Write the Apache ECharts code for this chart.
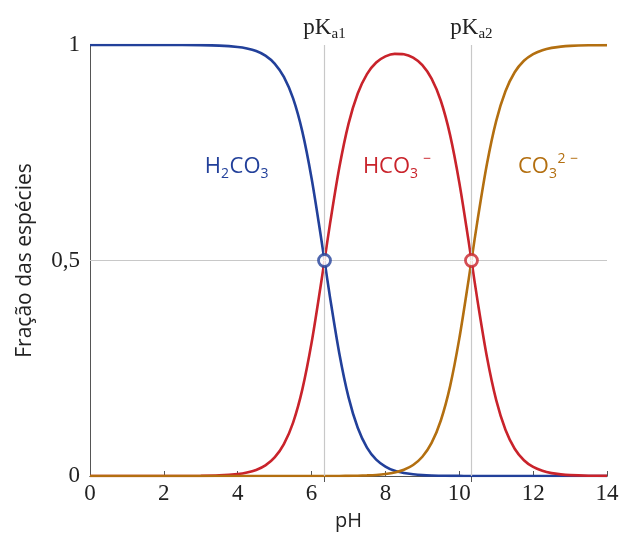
<!DOCTYPE html>
<html>
<head>
<meta charset="utf-8">
<script src="https://cdn.jsdelivr.net/npm/echarts@6/dist/echarts.min.js"></script>
<style>
  html, body { margin: 0; padding: 0; background: #fff; }
  #chart { width: 622px; height: 538px; }
</style>
</head>
<body>
<div id="chart"></div>
<script>
// valores de pH
const phValues = [0, 1, 2, 3, 3.5, 4, 4.25, 4.5, 4.75, 5, 5.25, 5.5, 5.75, 6, 6.25, 6.35,
  6.5, 6.75, 7, 7.25, 7.5, 7.75, 8, 8.25, 8.5, 8.75, 9, 9.25, 9.5, 9.75, 10, 10.25, 10.33,
  10.5, 10.75, 11, 11.25, 11.5, 11.75, 12, 12.25, 12.5, 12.75, 13, 13.5, 14]
// fração de H2CO3
const h2co3 = [1, 1, 1, 0.9996, 0.9986, 0.9955, 0.992, 0.986, 0.9755, 0.957, 0.926, 0.876, 0.799, 0.691, 0.557, 0.5,
  0.4145, 0.285, 0.183, 0.112, 0.066, 0.038, 0.022, 0.012, 0.007, 0.004, 0.002, 0.001, 0.0006, 0.0003, 0.0002, 0.0001, 0.0001,
  0, 0, 0, 0, 0, 0, 0, 0, 0, 0, 0, 0, 0]
// fração de HCO3-
const hco3 = [0, 0, 0, 0.0004, 0.0014, 0.0045, 0.008, 0.014, 0.0245, 0.043, 0.074, 0.124, 0.201, 0.309, 0.443, 0.5,
  0.5855, 0.715, 0.817, 0.8875, 0.9326, 0.9593, 0.9736, 0.9795, 0.9786, 0.9706, 0.9533, 0.922, 0.8706, 0.7915, 0.681, 0.546, 0.5,
  0.4034, 0.2755, 0.176, 0.1073, 0.0633, 0.0366, 0.021, 0.012, 0.0067, 0.0038, 0.0021, 0.0007, 0.0002]
// fração de CO3 2-
const co3 = [0, 0, 0, 0, 0, 0, 0, 0, 0, 0, 0, 0, 0, 0, 0, 0,
  0, 0, 0.0004, 0.0007, 0.0014, 0.0025, 0.0046, 0.0082, 0.0145, 0.0255, 0.0446, 0.0767, 0.1288, 0.208, 0.3187, 0.454, 0.5,
  0.5966, 0.7245, 0.824, 0.8927, 0.9367, 0.9634, 0.979, 0.988, 0.9933, 0.9962, 0.9979, 0.9993, 0.9998]
const pKa = [6.35, 10.33]
const pKaNames = ['pKa1', 'pKa2']
const xTicks = [0, 2, 4, 6, 8, 10, 12, 14]
const yTicks = [0, 0.5, 1]

const blue = '#22409a'
const red = '#c9232b'
const gold = '#b36f10'
const gray = '#c8c8c8'
const axisColor = '#555'
const serif = '"Liberation Serif", "DejaVu Serif", serif'
const sans = '"Open Sans", "Noto Sans", sans-serif'

const pair = arr => phValues.map((x, i) => [x, arr[i]])

// rótulos das espécies: pedaços de texto com sub/sobrescrito
// [texto, tamanho, deslocamento da linha de base]
const speciesLabels = [
  { at: [3.11, 0.70], color: blue, parts: [['H', 22, 0], ['2', 14, 4.5], ['CO', 22, 0], ['3', 14, 4.5]] },
  { at: [7.39, 0.70], color: red, parts: [['HCO', 22, 0], ['3', 14, 4.5], ['\u2009\u2009\u2212', 14, -10]] },
  { at: [11.59, 0.70], color: gold, parts: [['CO', 22, 0], ['3', 14, 4.5], ['2\u2009\u2009\u2212', 14, -10]] }
]

const option = {
  animation: false,
  backgroundColor: '#fff',
  grid: { left: 90, right: 15, top: 45, bottom: 62 },
  xAxis: [
    {
      type: 'value', min: 0, max: 14, interval: 2,
      name: 'pH', nameLocation: 'middle', nameGap: 35,
      nameTextStyle: { fontFamily: sans, fontSize: 20, color: '#222' },
      axisLine: { lineStyle: { color: axisColor, width: 1 } },
      axisTick: { inside: true, length: 5, lineStyle: { color: axisColor } },
      axisLabel: { fontFamily: serif, fontSize: 23, color: '#222', margin: 6,
        customValues: xTicks },
      splitLine: { show: false }
    },
    {
      type: 'value', min: 0, max: 14, position: 'top',
      axisLine: { show: true, lineStyle: { color: axisColor, width: 1 } },
      axisTick: { show: true, inside: true, length: 6, customValues: pKa, lineStyle: { color: axisColor } },
      axisLabel: {
        show: true, customValues: pKa, margin: 6,
        formatter: v => '{p|pK}{s|' + pKaNames[pKa.indexOf(v)].slice(2) + '}',
        rich: {
          p: { fontFamily: serif, fontSize: 23, color: '#222', verticalAlign: 'bottom', lineHeight: 26 },
          s: { fontFamily: serif, fontSize: 15, color: '#222', verticalAlign: 'bottom', lineHeight: 19, padding: [0, 0, -3, 0] }
        }
      },
      splitLine: { show: false }
    }
  ],
  yAxis: [
    {
      type: 'value', min: 0, max: 1, interval: 0.5,
      name: 'Fração das espécies', nameLocation: 'middle', nameGap: 54,
      nameTextStyle: { fontFamily: sans, fontSize: 21, color: '#222' },
      axisLine: { show: true, lineStyle: { color: axisColor, width: 1 } },
      axisTick: { show: true, inside: true, length: 5, lineStyle: { color: axisColor } },
      axisLabel: { fontFamily: serif, fontSize: 23, color: '#222', margin: 10,
        customValues: yTicks,
        formatter: v => String(v).replace('.', ',') },
      splitLine: { show: false }
    },
    {
      type: 'value', min: 0, max: 1, position: 'right',
      axisLine: { show: true, lineStyle: { color: axisColor, width: 1 } },
      axisTick: { show: false }, axisLabel: { show: false }, splitLine: { show: false }
    }
  ],
  series: [
    {
      name: 'guias', type: 'line', data: [], silent: true,
      markLine: {
        symbol: 'none', silent: true, animation: false,
        label: { show: false },
        lineStyle: { color: gray, width: 1.2, type: 'solid' },
        data: [{ yAxis: 0.5 }, { xAxis: pKa[0] }, { xAxis: pKa[1] }]
      }
    },
    {
      name: 'H2CO3', type: 'line', data: pair(h2co3), showSymbol: false, smooth: 0.3,
      lineStyle: { color: blue, width: 2.6 }, itemStyle: { color: blue }
    },
    {
      name: 'HCO3-', type: 'line', data: pair(hco3), showSymbol: false, smooth: 0.3,
      lineStyle: { color: red, width: 2.6 }, itemStyle: { color: red }
    },
    {
      name: 'CO3 2-', type: 'line', data: pair(co3), showSymbol: false, smooth: 0.3,
      lineStyle: { color: gold, width: 2.6 }, itemStyle: { color: gold }
    },
    {
      name: 'pKa1', type: 'scatter', data: [[pKa[0], 0.5]], symbol: 'circle', symbolSize: 12,
      itemStyle: { color: '#fff', borderColor: blue, borderWidth: 2.8 }, z: 5
    },
    {
      name: 'pKa2', type: 'scatter', data: [[pKa[1], 0.5]], symbol: 'circle', symbolSize: 12,
      itemStyle: { color: '#fff', borderColor: red, borderWidth: 2.8 }, z: 5
    }
  ]
}

const chart = echarts.init(document.getElementById('chart'))
chart.setOption(option)

// monta os rótulos com texto real, medindo cada pedaço
const ctx = document.createElement('canvas').getContext('2d')
const elements = []
speciesLabels.forEach(lab => {
  const p = chart.convertToPixel({ xAxisIndex: 0, yAxisIndex: 0 }, lab.at)
  let x = p[0]
  lab.parts.forEach(([t, size, dy]) => {
    const font = size + 'px ' + sans
    ctx.font = font
    elements.push({
      type: 'text', x: x, y: p[1] + dy - 0.35 * size, silent: true, z: 10,
      style: { text: t, fill: lab.color, font: font, verticalAlign: 'middle', align: 'left' }
    })
    x += ctx.measureText(t).width + (size < 20 ? 0.5 : 0)
  })
})
chart.setOption({ graphic: elements })
</script>
</body>
</html>
